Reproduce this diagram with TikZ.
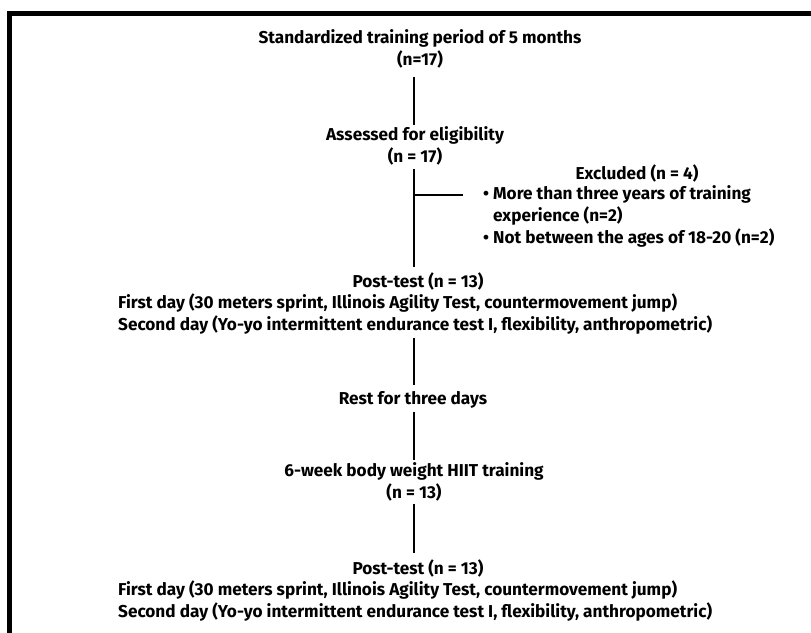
\documentclass[tikz,border=0pt]{standalone}
\usepackage{fontspec}
\setmainfont{Fira Sans}
\usetikzlibrary{positioning}
\tikzset{
  flowtext/.style={font=\fontsize{17.2pt}{22pt}\selectfont\bfseries, align=center, inner sep=0pt},
  flowlist/.style={flowtext, align=left},
  flowline/.style={line width=1.5pt, black},
}
\newcommand{\flowbullet}{\makebox[10pt][l]{\textbullet}}

\begin{document}
\begin{tikzpicture}[x=1pt,y=-1pt]
  \useasboundingbox (0,0) rectangle (811,632);
  % outer frame, cut off at the right and bottom
  \draw [line width=4.5pt] (9.5,13.5) rectangle (840,660);
  % spine of the flow
  \coordinate (spine) at (414,0);
  % training period
  \node [flowtext] (train) at (420,49) {Standardized training period of 5 months\\(n=17)};
  % eligibility
  \node [flowtext] (assess) at (415,145.5) {Assessed for eligibility\\(n = 17)};
  % excluded
  \node [flowtext] (excl) at (637,173) {Excluded (n = 4)};
  \node [flowlist, anchor=west] (excllist) at (483,216) {\flowbullet More than three years of training\\\hspace*{10pt}experience (n=2)\\\flowbullet Not between the ages of 18-20 (n=2)};
  % first post-test
  \node [flowtext] (posta) at (418,281) {Post-test (n = 13)};
  \node [flowlist, anchor=west] (postalist) at (118,314.5) {First day (30 meters sprint, Illinois Agility Test, countermovement jump)\\Second day (Yo-yo intermittent endurance test I, flexibility, anthropometric)};
  % rest
  \node [flowtext] (rest) at (413,400) {Rest for three days};
  % training
  \node [flowtext] (hiit) at (414,482) {6-week body weight HIIT training\\(n = 13)};
  % second post-test
  \node [flowtext] (postb) at (418,568) {Post-test (n = 13)};
  \node [flowlist, anchor=west] (postblist) at (118,601) {First day (30 meters sprint, Illinois Agility Test, countermovement jump)\\Second day (Yo-yo intermittent endurance test I, flexibility, anthropometric)};
  % connectors
  \draw [flowline, shorten <=8pt, shorten >=1pt] (train.south -| spine) -- (assess.north -| spine);
  \draw [flowline, shorten <=3.5pt, shorten >=5pt] (assess.south -| spine) -- (posta.north -| spine);
  \coordinate (split) at (spine |- excllist.north);
  \draw [flowline] ([yshift=-10pt]split) -- ([yshift=-10pt,xshift=-20pt]excllist.north west);
  \draw [flowline, shorten <=2.5pt, shorten >=6pt] (postalist.south -| spine) -- (rest.north -| spine);
  \draw [flowline, shorten <=3pt, shorten >=2pt] (rest.south -| spine) -- (hiit.north -| spine);
  \draw [flowline, shorten <=2pt, shorten >=6pt] (hiit.south -| spine) -- (postb.north -| spine);
\end{tikzpicture}
\end{document}
